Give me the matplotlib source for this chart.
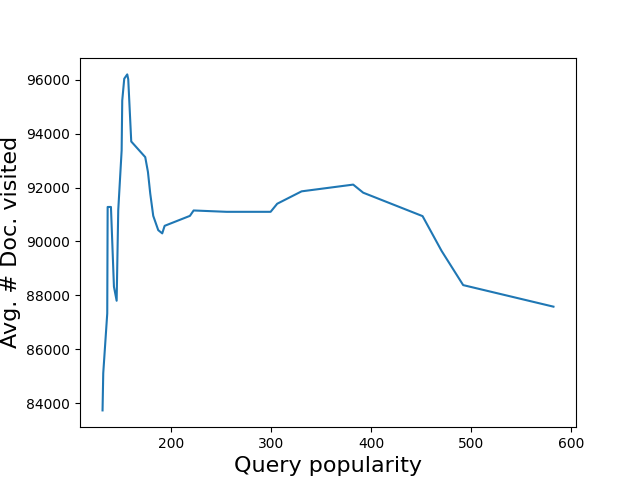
import numpy as np
import matplotlib
matplotlib.use('Agg')
import matplotlib.pyplot as plt

# Popularidade da consulta vs. documentos visitados
popularity = np.array([131.3, 132.0, 136.0, 136.4, 139.7, 142.7, 145.4, 147.0, 150.4,
                       151.0, 153.0, 156.0, 157.0, 160.0, 174.0, 176.7, 179.0, 182.0,
                       187.0, 191.0, 193.4, 218.7, 222.4, 255.4, 299.4, 306.0, 330.4,
                       382.0, 392.0, 451.4, 470.4, 492.0, 582.3])
docs_visited = np.array([83730, 85110, 87330, 91280, 91280, 88320, 87800, 91160, 93380,
                         95230, 96040, 96200, 96020, 93710, 93130, 92580, 91780, 90950,
                         90420, 90300, 90580, 90950, 91150, 91100, 91100, 91400, 91860,
                         92110, 91810, 90940, 89650, 88380, 87580])

plt.figure(figsize=(6.4, 4.8), dpi=100)
plt.plot(popularity, docs_visited)
plt.xlabel('Query popularity', fontsize=16)
plt.ylabel('Avg. # Doc. visited', fontsize=16)
plt.savefig('out.png')
